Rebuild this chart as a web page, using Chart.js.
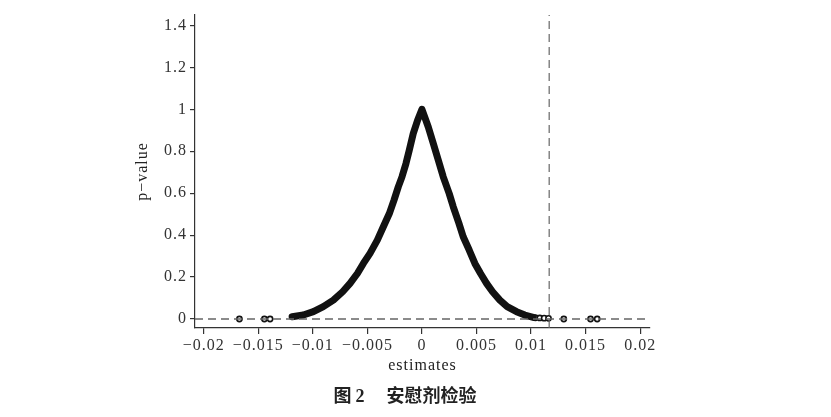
<!DOCTYPE html>
<html>
<head>
<meta charset="utf-8">
<script src="https://cdn.jsdelivr.net/npm/chart.js@4/dist/chart.umd.min.js"></script>
<style>
  body { margin: 0; background: #fff; }
  #wrap { position: relative; width: 831px; height: 417px; }
  #caption {
    position: absolute; left: 0; width: 810px; top: 381px;
    text-align: center; font-size: 18px; color: #222;
    font-family: "Noto Sans CJK SC", sans-serif; font-weight: bold;
  }
  #caption .num { font-family: "Liberation Serif", serif; margin-left: 4px; margin-right: 22px; }
</style>
</head>
<body>
<div id="wrap">
  <canvas id="chart" width="831" height="417"></canvas>
  <div id="caption">图<span class="num">2</span>安慰剂检验</div>
</div>
<script>
// 安慰剂检验: 估计值 vs p 值
const curveEst = [-0.0119, -0.01087, -0.00995, -0.00904, -0.00812, -0.00727, -0.00659, -0.00592,
  -0.00537, -0.00476, -0.00409, -0.00354, -0.00299, -0.00256, -0.00217, -0.00183, -0.00147,
  -0.00116, -0.0008, -0.0004, 0, 0.00058, 0.00104, 0.0015, 0.00195, 0.0025, 0.00287, 0.00339,
  0.00378, 0.00433, 0.00485, 0.00537, 0.00592, 0.00647, 0.00714, 0.00781, 0.00867, 0.00943, 0.0102];
const curveP = [0.011, 0.019, 0.035, 0.059, 0.09, 0.13, 0.17, 0.217,
  0.265, 0.313, 0.376, 0.44, 0.503, 0.567, 0.63, 0.678, 0.741,
  0.805, 0.884, 0.948, 1.0, 0.916, 0.837, 0.757, 0.678, 0.598, 0.535, 0.456,
  0.392, 0.329, 0.265, 0.217, 0.17, 0.13, 0.09, 0.059, 0.035, 0.019, 0.008];

// 离散的点
const looseEst = [-0.01673, -0.01444, -0.01392, 0.0104, 0.0108, 0.0112, 0.0116, 0.013, 0.01545, 0.01606];
const looseP = [0, 0, 0, 0.006, 0.005, 0.004, 0.003, 0, 0, 0];

// 基准估计值 (竖虚线)
const trueEstimate = 0.01166;

const xTicks = [-0.02, -0.015, -0.01, -0.005, 0, 0.005, 0.01, 0.015, 0.02];
const xTickLabels = ["\u22120.02", "\u22120.015", "\u22120.01", "\u22120.005", "0", "0.005", "0.01", "0.015", "0.02"];
const yTicks = [0, 0.2, 0.4, 0.6, 0.8, 1, 1.2, 1.4];
const yTickLabels = ["0", "0.2", "0.4", "0.6", "0.8", "1", "1.2", "1.4"];

const X_MIN = -0.0208, X_MAX = 0.0209;
const Y_MIN = -0.043, Y_MAX = 1.45;

const ink = "#222";
const serif = "'Liberation Serif', 'DejaVu Serif', serif";

// 字距
const spacingPlugin = {
  id: "spacing",
  beforeDraw(chart) { chart.ctx.letterSpacing = "1px"; }
};

new Chart(document.getElementById("chart"), {
  type: "scatter",
  data: {
    datasets: [
      {
        data: [{ x: X_MIN, y: 0 }, { x: X_MAX, y: 0 }],
        showLine: true, borderColor: "#666", borderWidth: 1.3, borderDash: [8, 5],
        pointRadius: 0
      },
      {
        data: [{ x: trueEstimate, y: Y_MIN }, { x: trueEstimate, y: Y_MAX }],
        showLine: true, borderColor: "#666", borderWidth: 1.2, borderDash: [8, 5],
        pointRadius: 0
      },
      {
        data: curveEst.map((v, i) => ({ x: v, y: curveP[i] })),
        showLine: true, borderColor: "#111", borderWidth: 7,
        borderJoinStyle: "round", borderCapStyle: "round",
        pointRadius: 0, tension: 0
      },
      {
        data: looseEst.map((v, i) => ({ x: v, y: looseP[i] })),
        showLine: false, pointRadius: 2.6, pointBorderWidth: 1.6,
        pointBorderColor: "#111", pointBackgroundColor: "#fff"
      }
    ]
  },
  options: {
    responsive: false,
    animation: false,
    layout: { padding: { left: 133, top: 15, right: 181, bottom: 39 } },
    plugins: { legend: { display: false }, tooltip: { enabled: false } },
    scales: {
      x: {
        type: "linear", min: X_MIN, max: X_MAX,
        afterBuildTicks: s => { s.ticks = xTicks.map(v => ({ value: v })); },
        afterFit: s => { s.height = 50; },
        grid: { drawOnChartArea: false, drawTicks: true, tickLength: 6, color: "#333", lineWidth: 1.2 },
        border: { display: true, color: "#333", width: 1.2 },
        ticks: {
          color: "#333", padding: 2, maxRotation: 0, autoSkip: false,
          font: { family: serif, size: 16 },
          callback: (v, i) => xTickLabels[i]
        },
        title: {
          display: true, text: "estimates", color: ink,
          font: { family: serif, size: 16 }, padding: { top: 0, bottom: 3 }
        }
      },
      y: {
        type: "linear", min: Y_MIN, max: Y_MAX,
        afterBuildTicks: s => { s.ticks = yTicks.map(v => ({ value: v })); },
        afterFit: s => { s.width = 62; },
        grid: { drawOnChartArea: false, drawTicks: true, tickLength: 5, color: "#333", lineWidth: 1.2 },
        border: { display: true, color: "#333", width: 1.2 },
        ticks: {
          color: "#333", padding: 3, autoSkip: false,
          font: { family: serif, size: 16 },
          callback: (v, i) => yTickLabels[i]
        },
        title: {
          display: true, text: "p\u2212value", color: ink,
          font: { family: serif, size: 16 }, padding: { top: 0, bottom: 0 }
        }
      }
    }
  },
  plugins: [spacingPlugin]
});
</script>
</body>
</html>
